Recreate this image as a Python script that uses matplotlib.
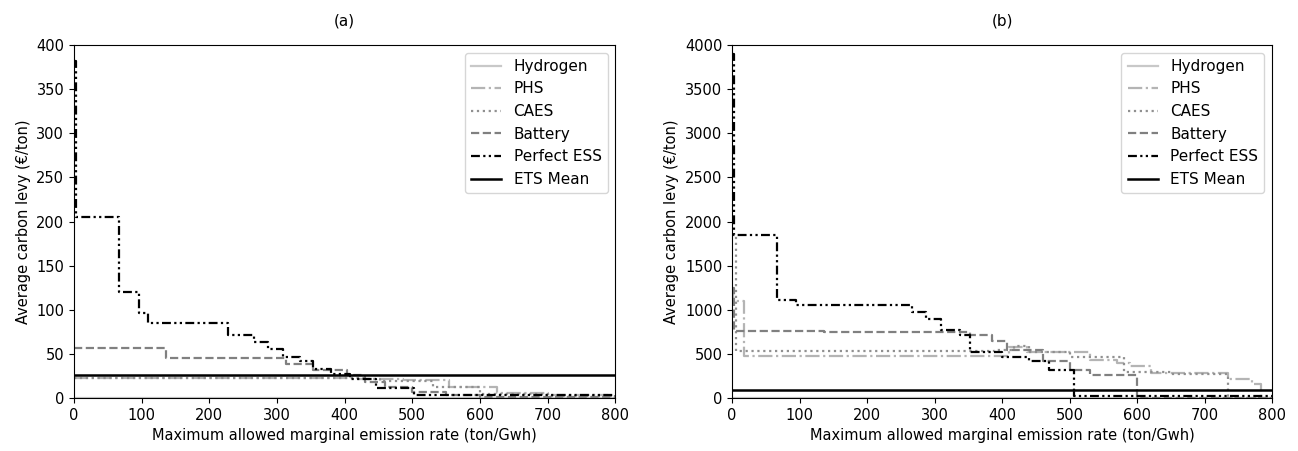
import numpy as np
import matplotlib.pyplot as plt

# step curves: x breakpoints and carbon levy values (steps-post)
hyd_a_x = [0, 800]
hyd_a_y = [0, 0]
phs_a_x = [0, 420, 486, 555, 625, 700, 790, 800]
phs_a_y = [23, 22, 20, 13, 6, 3, 0, 0]
caes_a_x = [0, 430, 452, 530, 600, 700, 800]
caes_a_y = [23, 22, 19, 12, 5, 2, 1]
bat_a_x = [0, 136, 314, 353, 403, 430, 460, 500, 550, 600, 800]
bat_a_y = [57, 45, 38, 32, 26, 18, 12, 7, 3, 1, 1]
perf_a_x = [0, 3, 67, 96, 110, 228, 266, 287, 309, 334, 353, 380, 408, 447, 503, 800]
perf_a_y = [382, 205, 120, 96, 85, 71, 63, 56, 46, 42, 33, 27, 21, 11, 3, 2]
ets_a = 26

hyd_b_x = [0, 800]
hyd_b_y = [0, 0]
phs_b_x = [0, 2, 18, 400, 410, 437, 531, 570, 590, 620, 735, 770, 784, 800]
phs_b_y = [1250, 1100, 480, 480, 580, 520, 430, 400, 360, 280, 220, 160, 0, 0]
caes_b_x = [0, 6, 390, 417, 440, 500, 580, 650, 735, 800]
caes_b_y = [1850, 530, 540, 585, 520, 470, 300, 270, 0, 0]
bat_b_x = [0, 3, 136, 352, 385, 407, 461, 501, 531, 600, 800]
bat_b_y = [1250, 765, 747, 717, 650, 547, 415, 320, 265, 0, 0]
perf_b_x = [0, 3, 66, 95, 267, 288, 310, 338, 352, 400, 440, 470, 506, 800]
perf_b_y = [3900, 1850, 1110, 1055, 970, 890, 770, 715, 525, 470, 420, 320, 20, 20]
ets_b = 90

plt.rcParams['font.size'] = 10.5

fig = plt.figure(figsize=(12.98, 4.51), dpi=100)
ax1 = fig.add_axes([0.057, 0.1175, 0.417, 0.7825])
ax2 = fig.add_axes([0.564, 0.1175, 0.416, 0.7825])

perfect_ls = (0, (4, 1.5, 1, 1.5, 1, 1.5))


def draw(ax, hyd, phs, caes, bat, perf, ets, ymax, title):
    ax.plot(hyd[0], hyd[1], drawstyle='steps-post', color='#c8c8c8', lw=1.6, label='Hydrogen')
    ax.plot(phs[0], phs[1], drawstyle='steps-post', color='#b4b4b4', lw=1.6, ls='-.', label='PHS')
    ax.plot(caes[0], caes[1], drawstyle='steps-post', color='#909090', lw=1.6, ls=':', label='CAES')
    ax.plot(bat[0], bat[1], drawstyle='steps-post', color='#808080', lw=1.6, ls='--', label='Battery')
    ax.plot(perf[0], perf[1], drawstyle='steps-post', color='black', lw=1.6, ls=perfect_ls, label='Perfect ESS')
    ax.axhline(ets, color='black', lw=1.8, label='ETS Mean')
    ax.set_xlim(0, 800)
    ax.set_ylim(0, ymax)
    ax.set_xlabel('Maximum allowed marginal emission rate (ton/Gwh)')
    ax.set_ylabel('Average carbon levy (€/ton)')
    ax.set_title(title, fontsize=11, pad=14)
    ax.legend(loc='upper right', fontsize=11, handlelength=2.0)


draw(ax1, (hyd_a_x, hyd_a_y), (phs_a_x, phs_a_y), (caes_a_x, caes_a_y),
     (bat_a_x, bat_a_y), (perf_a_x, perf_a_y), ets_a, 400, '(a)')
draw(ax2, (hyd_b_x, hyd_b_y), (phs_b_x, phs_b_y), (caes_b_x, caes_b_y),
     (bat_b_x, bat_b_y), (perf_b_x, perf_b_y), ets_b, 4000, '(b)')

plt.savefig('out.png', dpi=100)
